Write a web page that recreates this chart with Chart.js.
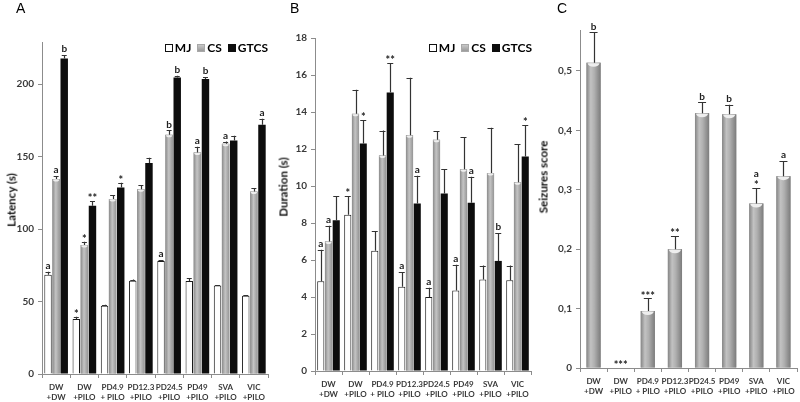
<!DOCTYPE html>
<html>
<head>
<meta charset="utf-8">
<script src="https://cdn.jsdelivr.net/npm/chart.js@4/dist/chart.umd.min.js"></script>
<style>
  html, body { margin: 0; padding: 0; background: #fff; }
  body { width: 800px; height: 402px; position: relative; overflow: hidden; }
  .panel { position: absolute; top: 0; }
  .letter { position: absolute; font-family: "Liberation Sans", Arial, sans-serif; font-size: 14px; color: #000; }
  .ytitle { position: absolute; font-family: Lato, "Open Sans", sans-serif; font-weight: bold; font-size: 11.5px; color: #111;
            transform: translate(-50%, -50%) rotate(-90deg); white-space: nowrap; }
  .legend { position: absolute; display: flex; align-items: center; font-family: Lato, "Open Sans", sans-serif;
            font-weight: bold; font-size: 12px; color: #000; white-space: nowrap; }
  .legend .item { display: flex; align-items: center; margin-right: 6px; }
  .legend .item:last-child { margin-right: 0; }
  .legend .box { display: inline-block; width: 8px; height: 8px; margin-right: 2px; box-sizing: border-box; }
</style>
</head>
<body>
<div class="panel" style="left:0;width:272px;height:402px"><canvas id="cA" width="272" height="402"></canvas></div>
<div class="panel" style="left:272px;width:263px;height:402px"><canvas id="cB" width="263" height="402"></canvas></div>
<div class="panel" style="left:535px;width:265px;height:402px"><canvas id="cC" width="265" height="402"></canvas></div>
<div class="letter" style="left:16px;top:0px">A</div>
<div class="letter" style="left:290px;top:0px">B</div>
<div class="letter" style="left:557px;top:0px">C</div>
<div class="ytitle" style="left:11px;top:200px">Latency (s)</div>
<div class="ytitle" style="left:283px;top:187px">Duration (s)</div>
<div class="ytitle" style="left:543px;top:177px">Seizures score</div>
<div class="legend" id="legA" style="right:532px;top:40px"></div>
<div class="legend" id="legB" style="right:268px;top:40px"></div>
<script>
// ---------- DATA ----------
const categories = [['DW','+DW'],['DW','+PILO'],['PD4.9','+ PILO'],['PD12.3','+PILO'],['PD24.5','+PILO'],['PD49','+PILO'],['SVA','+PILO'],['VIC','+PILO']];
const seriesNames = ['MJ', 'CS', 'GTCS'];

// Panel A: Latency (s)
const latencyMJ      = [68.5, 38, 47, 64.3, 78, 64.2, 61, 54];
const latencyMJErr   = [2, 1.5, 0.8, 0.8, 0.5, 1.8, 0.4, 0.4];
const latencyCS      = [134.5, 89, 120.7, 127.5, 165, 152.8, 158.8, 125.8];
const latencyCSErr   = [2, 2.2, 2.7, 2.8, 3, 4, 1.5, 2.3];
const latencyGTCS    = [217.7, 116, 128.7, 145.5, 204.5, 203.5, 161, 172];
const latencyGTCSErr = [2.3, 3.3, 3.3, 3.7, 1.2, 1.2, 3.4, 4];
const latencyMJMarks   = ['a','*','','','a','','',''];
const latencyCSMarks   = ['a','*','','','b','a','a',''];
const latencyGTCSMarks = ['b','**','*','','b','b','','a'];
const latencyTicks = [0, 50, 100, 150, 200];

// Panel B: Duration (s)
const durationMJ      = [4.85, 8.45, 6.5, 4.55, 4.0, 4.35, 4.95, 4.9];
const durationMJErr   = [1.7, 1.0, 1.05, 0.8, 0.5, 1.4, 0.75, 0.8];
const durationCS      = [7.0, 13.9, 11.65, 12.75, 12.5, 10.9, 10.7, 10.2];
const durationCSErr   = [0.85, 1.3, 1.35, 3.1, 0.45, 1.75, 2.45, 2.05];
const durationGTCS    = [8.15, 12.3, 15.05, 9.05, 9.6, 9.1, 5.95, 11.6];
const durationGTCSErr = [1.3, 1.25, 1.6, 1.5, 1.3, 1.4, 1.5, 1.7];
const durationMJMarks   = ['a','*','','a','a','a','',''];
const durationCSMarks   = ['a','','','','','','',''];
const durationGTCSMarks = ['','*','**','a','','a','b','*'];
const durationTicks = [0, 2, 4, 6, 8, 10, 12, 14, 16, 18];

// Panel C: Seizures score
const scoreValues = [0.514, 0, 0.096, 0.2, 0.429, 0.427, 0.277, 0.323];
const scoreErr    = [0.051, 0, 0.021, 0.022, 0.018, 0.016, 0.026, 0.025];
const scoreMarks  = [['b'],['***'],['***'],['**'],['b'],['b'],['*','a'],['a']];
const scoreTicks  = [0, 0.1, 0.2, 0.3, 0.4, 0.5];

// ---------- STYLE / HELPERS ----------
Chart.defaults.font.family = 'Lato, "Open Sans", sans-serif';
Chart.defaults.animation = false;
const AXIS = '#8c8c8c';
const TICKC = '#3a3a3a';
const FILLS = ['#ffffff', '#a8a8a8', '#0d0d0d'];
const BORDERS = ['#1a1a1a', '#a8a8a8', '#0d0d0d'];

function buildLegend(id) {
  const el = document.getElementById(id);
  seriesNames.forEach((n, i) => {
    const it = document.createElement('span'); it.className = 'item';
    const b = document.createElement('span'); b.className = 'box';
    b.style.background = i === 1 ? 'linear-gradient(#c8c8c8,#9a9a9a)' : FILLS[i];
    b.style.border = '1px solid ' + (i === 0 ? '#111' : BORDERS[i]);
    const t = document.createElement('span'); t.textContent = n;
    it.appendChild(b); it.appendChild(t); el.appendChild(it);
  });
}
buildLegend('legA'); buildLegend('legB');

function makeOverlay(errorsList, marksList, gradientSet, capW, gray3d) {
  return {
    id: 'overlay',
    afterDatasetsDraw(chart) {
      const ctx = chart.ctx;
      const ys = chart.scales.y;
      ctx.save();
      chart.data.datasets.forEach((ds, di) => {
        const meta = chart.getDatasetMeta(di);
        meta.data.forEach((el, i) => {
          const p = el.getProps(['x','y','base','width'], true);
          const left = p.x - p.width / 2, right = p.x + p.width / 2;
          if (gradientSet.includes(di) && ds.data[i] > 0) {
            const g = ctx.createLinearGradient(left, 0, right, 0);
            if (gray3d) {
              g.addColorStop(0, '#858585'); g.addColorStop(0.3, '#c2c2c2');
              g.addColorStop(0.55, '#b0b0b0'); g.addColorStop(1, '#7c7c7c');
            } else {
              g.addColorStop(0, '#8a8a8a'); g.addColorStop(0.45, '#c4c4c4'); g.addColorStop(1, '#959595');
            }
            ctx.fillStyle = g;
            ctx.fillRect(left, p.y, p.width, p.base - p.y);
            ctx.fillStyle = '#eeeeee';
            ctx.beginPath();
            ctx.ellipse(p.x, p.y + 0.5, p.width * 0.42, gray3d ? 3.5 : 2, 0, 0, Math.PI);
            ctx.fill();
          }
          const err = errorsList[di][i];
          let topY = p.y;
          if (err > 0) {
            const yc = ys.getPixelForValue(ds.data[i] + err);
            ctx.strokeStyle = '#333';
            ctx.lineWidth = 1.2;
            ctx.beginPath();
            ctx.moveTo(Math.round(p.x) + 0.5, p.y);
            ctx.lineTo(Math.round(p.x) + 0.5, yc);
            ctx.moveTo(p.x - capW / 2, Math.round(yc) + 0.5);
            ctx.lineTo(p.x + capW / 2, Math.round(yc) + 0.5);
            ctx.stroke();
            topY = yc;
          }
          let m = marksList[di][i];
          if (!Array.isArray(m)) m = m ? [m] : [];
          ctx.fillStyle = '#222';
          ctx.textAlign = 'center';
          ctx.textBaseline = 'bottom';
          let yy = topY - 1;
          m.forEach(t => {
            const isStar = t.indexOf('*') >= 0;
            ctx.font = isStar ? 'bold 11px Lato, "Open Sans", sans-serif' : 'bold 10px Lato, "Open Sans", sans-serif';
            ctx.fillText(t, p.x, isStar ? yy + 4 : yy);
            yy -= isStar ? 8 : 10;
          });
        });
      });
      ctx.restore();
    }
  };
}

function xScale() {
  return {
    type: 'category',
    offset: true,
    grid: { drawOnChartArea: false, drawTicks: true, tickLength: 4, color: AXIS, offset: true },
    border: { color: AXIS, width: 1 },
    ticks: { color: TICKC, font: { size: 8, weight: 'bold', lineHeight: 1.3 }, padding: 4, maxRotation: 0, autoSkip: false },
    afterFit: s => { s.height = 28; }
  };
}
function yScale(max, tickVals, width, fmt) {
  return {
    min: 0, max: max,
    afterBuildTicks: s => { s.ticks = tickVals.map(v => ({ value: v })); },
    grid: { drawOnChartArea: false, drawTicks: true, tickLength: 4, color: AXIS },
    border: { color: AXIS, width: 1 },
    ticks: { color: TICKC, font: { size: 10, weight: 'bold' }, padding: 4, callback: fmt || (v => v) },
    afterFit: s => { s.width = width; }
  };
}
function triple(mj, cs, gt) {
  return [mj, cs, gt].map((d, i) => ({
    label: seriesNames[i], data: d, backgroundColor: FILLS[i], borderColor: BORDERS[i], borderWidth: i === 0 ? 1 : 0
  }));
}
const noPlugins = { legend: { display: false }, tooltip: { enabled: false } };

// ---------- PANEL A ----------
new Chart(document.getElementById('cA'), {
  type: 'bar',
  data: { labels: categories, datasets: triple(latencyMJ, latencyCS, latencyGTCS) },
  options: {
    responsive: false,
    datasets: { bar: { categoryPercentage: 0.86, barPercentage: 0.92 } },
    layout: { padding: { top: 42, right: 4, left: 0, bottom: 0 } },
    scales: { x: xScale(), y: yScale(229, latencyTicks, 42) },
    plugins: noPlugins
  },
  plugins: [makeOverlay([latencyMJErr, latencyCSErr, latencyGTCSErr], [latencyMJMarks, latencyCSMarks, latencyGTCSMarks], [1], 5, false)]
});

// ---------- PANEL B ----------
new Chart(document.getElementById('cB'), {
  type: 'bar',
  data: { labels: categories, datasets: triple(durationMJ, durationCS, durationGTCS) },
  options: {
    responsive: false,
    datasets: { bar: { categoryPercentage: 0.86, barPercentage: 0.92 } },
    layout: { padding: { top: 38, right: 4, left: 0, bottom: 3 } },
    scales: { x: xScale(), y: yScale(18, durationTicks, 43) },
    plugins: noPlugins
  },
  plugins: [makeOverlay([durationMJErr, durationCSErr, durationGTCSErr], [durationMJMarks, durationCSMarks, durationGTCSMarks], [1], 6, false)]
});

// ---------- PANEL C ----------
new Chart(document.getElementById('cC'), {
  type: 'bar',
  data: { labels: categories, datasets: [
    { label: 'Seizures score', data: scoreValues, backgroundColor: '#a5a5a5', borderWidth: 0 }
  ] },
  options: {
    responsive: false,
    datasets: { bar: { categoryPercentage: 0.55, barPercentage: 0.95 } },
    layout: { padding: { top: 30, right: 3, left: 0, bottom: 6 } },
    scales: {
      x: xScale(),
      y: yScale(0.569, scoreTicks, 45, v => v === 0 ? '0' : v.toFixed(1).replace('.', ','))
    },
    plugins: noPlugins
  },
  plugins: [makeOverlay([scoreErr], [scoreMarks], [0], 8, true)]
});
</script>
</body>
</html>
